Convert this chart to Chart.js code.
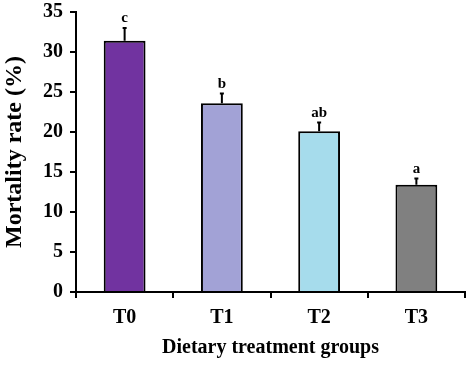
<!DOCTYPE html>
<html><head><meta charset="utf-8">
<script src="https://cdn.jsdelivr.net/npm/chart.js@4/dist/chart.umd.min.js"></script>
<style>html,body{margin:0;padding:0;background:#fff}#wrap{width:472px;height:366px}</style>
</head><body><div id="wrap"><canvas id="c" width="472" height="366"></canvas></div>
<script>
const categories = ["T0", "T1", "T2", "T3"];
const mortality = [31.4, 23.6, 20.1, 13.4];
const errors = [1.6, 1.2, 1.1, 0.8];
const letters = ["c", "b", "ab", "a"];
const yTicks = [0, 5, 10, 15, 20, 25, 30, 35];
const colors = ["#7133a0", "#a2a2d6", "#a6dcec", "#808080"];

const FONT = "'Liberation Serif', 'Times New Roman', serif";

const errPlugin = {
  id: 'errbars',
  afterDatasetsDraw(chart) {
    const ctx = chart.ctx, y = chart.scales.y;
    const meta = chart.getDatasetMeta(0);
    ctx.save();
    meta.data.forEach((bar, i) => {
      const top = y.getPixelForValue(mortality[i]);
      const et = y.getPixelForValue(mortality[i] + errors[i]);
      ctx.strokeStyle = '#000';
      ctx.lineWidth = 2;
      ctx.beginPath();
      ctx.moveTo(bar.x, top); ctx.lineTo(bar.x, et);
      ctx.moveTo(bar.x - 2, et); ctx.lineTo(bar.x + 2, et);
      ctx.stroke();
      ctx.fillStyle = '#000';
      ctx.font = 'bold 15px ' + FONT;
      ctx.textAlign = 'center';
      ctx.textBaseline = 'bottom';
      ctx.fillText(letters[i], bar.x, et - 2);
    });
    ctx.restore();
  }
};

new Chart(document.getElementById('c'), {
  type: 'bar',
  data: {
    labels: categories,
    datasets: [{
      data: mortality,
      backgroundColor: colors,
      borderColor: '#000',
      borderWidth: 2,
      borderSkipped: 'bottom',
      barPercentage: 0.86,
      categoryPercentage: 0.5
    }]
  },
  options: {
    responsive: false,
    animation: false,
    devicePixelRatio: 1,
    layout: { padding: { top: 12, right: 7, left: 0, bottom: 6 } },
    plugins: { legend: { display: false }, tooltip: { enabled: false } },
    scales: {
      x: {
        grid: { display: true, drawOnChartArea: false, drawTicks: true, tickLength: 6, offset: true, color: '#000', lineWidth: 2 },
        border: { display: true, color: '#000', width: 2 },
        ticks: { color: '#000', font: { family: FONT, size: 20, weight: 'bold' }, padding: 8 },
        title: { display: true, text: 'Dietary treatment groups', color: '#000', font: { family: FONT, size: 20, weight: 'bold' }, padding: { top: 2, bottom: 0 } },
        afterFit(s) { s.height = 68; s.paddingLeft = 0; s.paddingRight = 0; }
      },
      y: {
        min: 0, max: 35,
        afterBuildTicks(s) { s.ticks = yTicks.map(v => ({ value: v })); },
        grid: { display: true, drawOnChartArea: false, drawTicks: true, tickLength: 6, color: '#000', lineWidth: 2 },
        border: { display: true, color: '#000', width: 2 },
        ticks: { color: '#000', font: { family: FONT, size: 20, weight: 'bold' }, padding: 7 },
        title: { display: true, text: 'Mortality rate (%)', color: '#000', font: { family: FONT, size: 24, weight: 'bold' }, padding: { top: 0, bottom: 2 } },
        afterFit(s) { s.width = 76; s.paddingTop = 0; s.paddingBottom = 0; }
      }
    }
  },
  plugins: [errPlugin]
});
</script></body></html>
